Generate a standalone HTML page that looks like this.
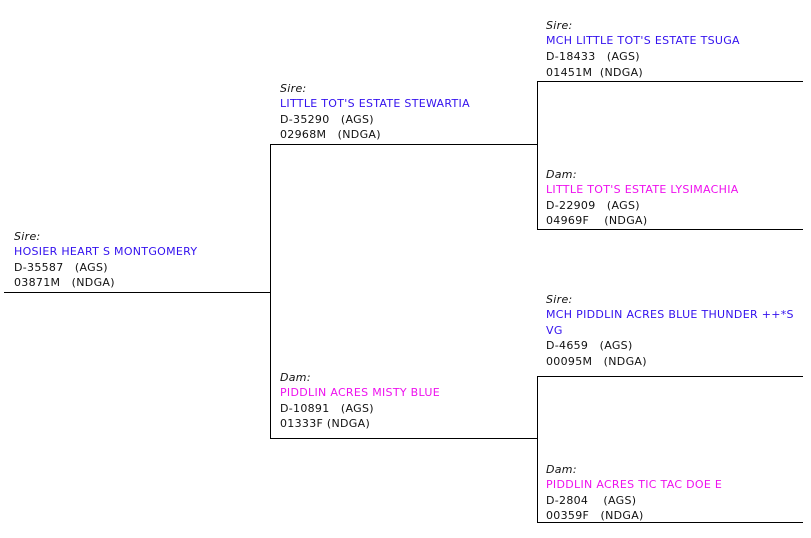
<!DOCTYPE html>
<html><head><meta charset="utf-8"><style>
body{margin:0;width:811px;height:538px;background:#fff;position:relative;overflow:hidden;font-family:"DejaVu Sans","Liberation Sans",sans-serif;font-size:11px;color:#111;letter-spacing:0.3px}
.l{position:absolute;background:#000}
.t{position:absolute;white-space:nowrap;line-height:14px;height:14px}
.i{font-style:italic}
.b{color:#3311ee}
.m{color:#ee11ee}
</style></head><body>
<div class="l" style="left:4px;top:292px;width:267px;height:1px"></div>
<div class="l" style="left:270px;top:144px;width:1px;height:295px"></div>
<div class="l" style="left:270px;top:144px;width:268px;height:1px"></div>
<div class="l" style="left:270px;top:438px;width:268px;height:1px"></div>
<div class="l" style="left:537px;top:81px;width:1px;height:149px"></div>
<div class="l" style="left:537px;top:376px;width:1px;height:147px"></div>
<div class="l" style="left:537px;top:81px;width:266px;height:1px"></div>
<div class="l" style="left:537px;top:229px;width:266px;height:1px"></div>
<div class="l" style="left:537px;top:376px;width:266px;height:1px"></div>
<div class="l" style="left:537px;top:522px;width:266px;height:1px"></div>

<div class="t i" style="left:14px;top:230px">Sire:</div>
<div class="t b" style="left:14px;top:245px">HOSIER HEART S MONTGOMERY</div>
<div class="t" style="left:14px;top:261px">D-35587 &nbsp;&nbsp;(AGS)</div>
<div class="t" style="left:14px;top:276px">03871M &nbsp;&nbsp;(NDGA)</div>

<div class="t i" style="left:280px;top:82px">Sire:</div>
<div class="t b" style="left:280px;top:97px">LITTLE TOT'S ESTATE STEWARTIA</div>
<div class="t" style="left:280px;top:113px">D-35290 &nbsp;&nbsp;(AGS)</div>
<div class="t" style="left:280px;top:128px">02968M &nbsp;&nbsp;(NDGA)</div>

<div class="t i" style="left:280px;top:371px">Dam:</div>
<div class="t m" style="left:280px;top:386px">PIDDLIN ACRES MISTY BLUE</div>
<div class="t" style="left:280px;top:402px">D-10891 &nbsp;&nbsp;(AGS)</div>
<div class="t" style="left:280px;top:417px">01333F (NDGA)</div>

<div class="t i" style="left:546px;top:19px">Sire:</div>
<div class="t b" style="left:546px;top:34px">MCH LITTLE TOT'S ESTATE TSUGA</div>
<div class="t" style="left:546px;top:50px">D-18433 &nbsp;&nbsp;(AGS)</div>
<div class="t" style="left:546px;top:66px">01451M &nbsp;(NDGA)</div>

<div class="t i" style="left:546px;top:168px">Dam:</div>
<div class="t m" style="left:546px;top:183px">LITTLE TOT'S ESTATE LYSIMACHIA</div>
<div class="t" style="left:546px;top:199px">D-22909 &nbsp;&nbsp;(AGS)</div>
<div class="t" style="left:546px;top:214px">04969F &nbsp;&nbsp;&nbsp;(NDGA)</div>

<div class="t i" style="left:546px;top:293px">Sire:</div>
<div class="t b" style="left:546px;top:308px">MCH PIDDLIN ACRES BLUE THUNDER ++*S</div>
<div class="t b" style="left:546px;top:324px">VG</div>
<div class="t" style="left:546px;top:339px">D-4659 &nbsp;&nbsp;(AGS)</div>
<div class="t" style="left:546px;top:355px">00095M &nbsp;&nbsp;(NDGA)</div>

<div class="t i" style="left:546px;top:463px">Dam:</div>
<div class="t m" style="left:546px;top:478px">PIDDLIN ACRES TIC TAC DOE E</div>
<div class="t" style="left:546px;top:494px">D-2804 &nbsp;&nbsp;&nbsp;(AGS)</div>
<div class="t" style="left:546px;top:509px">00359F &nbsp;&nbsp;(NDGA)</div>
</body></html>
